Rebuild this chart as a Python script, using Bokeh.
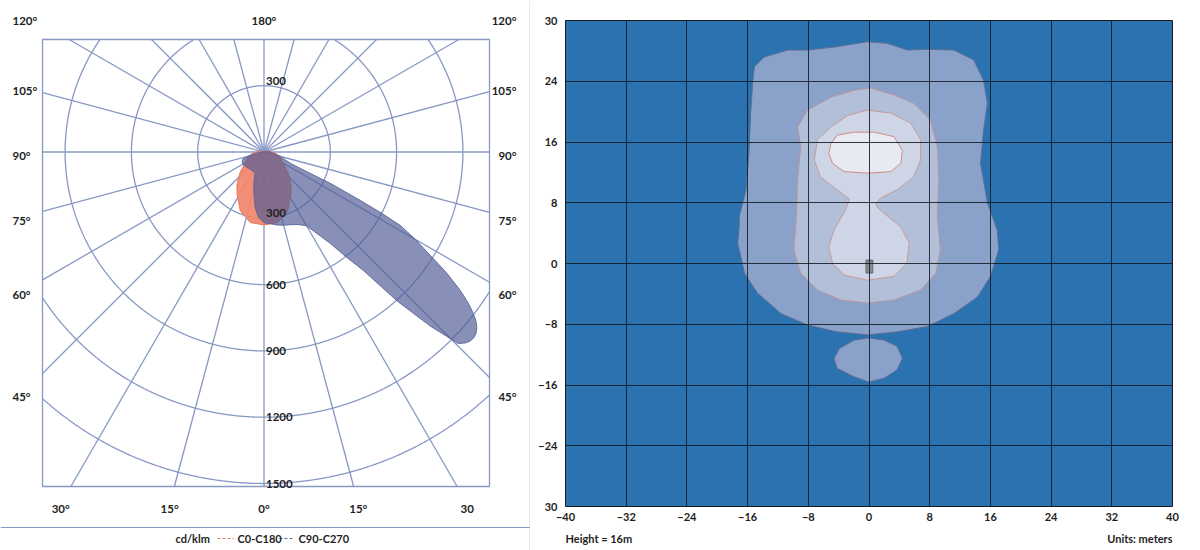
import numpy as np
from bokeh.plotting import figure
from bokeh.models import (ColumnDataSource, LabelSet, Range1d, Span, FixedTicker)
from bokeh.layouts import row, column
from bokeh.embed import file_html
from bokeh.resources import INLINE
from bokeh.core.properties import value

# ---------------- Polar luminous intensity data (cd/klm) ----------------
# angle from nadir in degrees (negative = left half of the diagram)
c0_angles = [-180, -110, -100, -90, -80, -70, -61, -50, -45, -40, -32.7, -22, -11, 0,
             11, 22, 32.7, 40, 45, 50, 61, 70, 80, 90, 100, 110, 180]
c0_cd = [0, 0, 15, 35, 60, 80, 96, 140, 162, 190, 226, 287, 325, 330,
         325, 287, 226, 190, 162, 140, 96, 80, 60, 35, 15, 0, 0]

c90_angles = [-180, -120, -100, -90, -82, -76, -72, -66, -60, -50, -40, -30, -23, -18,
              -13, -9, -5, 0, 5, 10, 15, 20, 25, 30, 33, 36, 38, 40, 41.8, 43.7,
              45.4, 46.5, 47.5, 48.5, 49.5, 50.5, 51.5, 52.5, 53.5, 54.8, 56.5, 58.1, 60,
              61.7, 62.5, 63.3, 64.7, 65.7, 67, 70, 75, 80, 90, 100, 120, 180]
c90_cd = [0, 0, 5, 12, 30, 70, 100, 108, 110, 105, 100, 100, 105, 151,
          200, 255, 295, 320, 326, 335, 343, 350, 362, 385, 440, 512, 600, 700, 906, 1091,
          1234, 1255, 1266, 1268, 1262, 1248, 1225, 1190, 1150, 1087, 990, 887, 790,
          701, 600, 489, 333, 181, 130, 100, 75, 50, 25, 10, 0, 0]

rings_cd = [300, 600, 900, 1200, 1500]
spoke_step_deg = 15
side_angles = [120, 105, 90, 75, 60, 45]
side_angle_labels = ["120°", "105°", "90°", "75°", "60°", "45°"]
bottom_angles = [-30, -15, 0, 15, 30]
bottom_angle_labels = ["30°", "15°", "0°", "15°", "30"]
top_angle_label = "180°"
unit_label = "cd/klm"
series_names = ["C0-C180", "C90-C270"]
series_colors = ["#e8775a", "#5a67a0"]

# ---------------- Isolux plan data (meters) ----------------
x_ticks = [-40, -32, -24, -16, -8, 0, 8, 16, 24, 32, 40]
y_ticks = [-32, -24, -16, -8, 0, 8, 16, 24, 32]
y_tick_overrides = {32: "30", -32: "30"}
height_note = "Height = 16m"
units_note = "Units: meters"

lvl1_x = [-0.2, 2.4, 5.05, 7.7, 11.2, 13.8, 15.1, 15.6, 15.1, 14.7, 15.6, 16.9, 17.1, 16.0,
          14.3, 11.2, 7.7, 3.7, -0.2, -4.2, -8.1, -11.6, -14.7, -16.4, -17.3, -17.1, -17.1,
          -16.2, -15.8, -15.6, -15.3, -15.1, -13.8, -10.7, -8.1, -4.6]
lvl1_y = [29.2, 29.0, 28.1, 28.2, 28.1, 26.8, 24.1, 21.1, 17.6, 13.2, 8.0, 4.4, 1.8, -1.7,
          -4.4, -6.6, -8.3, -9.0, -9.4, -9.0, -8.1, -6.6, -3.9, -1.3, 2.7, 4.8, 6.2,
          9.7, 14.9, 19.8, 24.1, 25.9, 27.2, 28.1, 28.1, 28.5]
blob_x = [0.0, 2.0, 3.7, 4.4, 3.7, 2.0, 0.0, -2.0, -4.2, -4.6, -3.9, -2.0]
blob_y = [-9.8, -10.1, -10.9, -12.5, -14.0, -15.1, -15.6, -14.9, -13.8, -12.5, -11.2, -10.1]
lvl2_x = [0.2, 3.3, 5.9, 8.1, 9.0, 9.2, 9.0, 9.4, 8.8, 6.8, 3.3, -0.2, -3.7, -6.8, -9.0,
          -9.9, -9.6, -9.4, -9.0, -9.4, -8.1, -5.0, -2.0]
lvl2_y = [23.1, 22.2, 21.1, 18.9, 15.4, 11.0, 6.2, 1.8, -1.3, -3.5, -4.8, -5.2, -4.8, -3.5,
          -1.3, 1.8, 5.7, 11.0, 15.4, 18.0, 20.2, 21.9, 22.8]
lvl3_x = [-0.2, 2.9, 5.5, 6.8, 6.8, 5.9, 3.7, 1.5, 0.9, 1.1, 2.0, 4.2, 5.3, 5.0, 3.3, -0.2,
          -3.3, -4.8, -5.3, -4.6, -3.1, -2.6, -4.2, -6.4, -7.2, -6.8, -5.0, -2.8]
lvl3_y = [20.2, 19.8, 18.5, 16.3, 13.6, 11.4, 9.7, 8.6, 7.9, 7.4, 6.6, 4.8, 2.7, 0.0, -1.7,
          -2.2, -1.5, 0.0, 2.2, 4.4, 7.0, 8.5, 9.7, 11.4, 13.6, 16.3, 18.0, 19.5]
lvl4_x = [-5.0, -4.2, -2.0, 0.7, 3.3, 4.4, 4.2, 2.9, -0.2, -3.3, -4.8, -5.3]
lvl4_y = [15.8, 16.9, 17.3, 17.3, 16.7, 14.9, 13.2, 12.1, 11.9, 12.1, 13.2, 14.5]
lum_x = [0.05]
lum_y = [-0.4]

# ---------------- styles ----------------
FONT = "Lato"
TXT = "#1e1e1e"
GRID = "#8798c4"
ORANGE_FILL, ORANGE_LINE = "#f2866a", "#e8775a"
PURPLE_FILL, PURPLE_LINE = "#4f5b96", "#59649a"
BLUE = "#2a72b0"

# ================= LEFT: polar diagram (frame = whole panel) =================
S = 0.221                    # px per cd
W1, H1 = 530, 550
POLE_X, POLE_Y = 263.5, 151.5  # pole position in panel pixels
BOX = (42, 489, 39, 486)       # diagram box: left, right, top, bottom (panel px)


def dx(px):
    return (px - POLE_X) / S


def dy(py):
    return (POLE_Y - py) / S


pol = figure(width=W1, height=H1, x_range=Range1d(dx(0), dx(W1)), y_range=Range1d(dy(H1), dy(0)),
             x_axis_type=None, y_axis_type=None, toolbar_location=None,
             output_backend="svg", min_border=0, outline_line_color=None,
             background_fill_color="white", border_fill_color="white")

bl, br, bt, bb = dx(BOX[0]), dx(BOX[1]), dy(BOX[2]), dy(BOX[3])

# spokes clipped to the box
sx0, sy0, sx1, sy1 = [], [], [], []
for a in np.deg2rad(np.arange(0, 360, spoke_step_deg)):
    c, s = np.cos(a), np.sin(a)
    ts = []
    if c > 1e-9:
        ts.append(br / c)
    if c < -1e-9:
        ts.append(bl / c)
    if s > 1e-9:
        ts.append(bt / s)
    if s < -1e-9:
        ts.append(bb / s)
    t = min(ts)
    sx0.append(0); sy0.append(0); sx1.append(t * c); sy1.append(t * s)
pol.segment(x0=sx0, y0=sy0, x1=sx1, y1=sy1, line_color=GRID, line_width=1.3)

# rings clipped to the box
ring_xs, ring_ys = [], []
th = np.linspace(0, 2 * np.pi, 3601)
for r in rings_cd:
    x = r * np.cos(th)
    y = r * np.sin(th)
    inside = (x >= bl) & (x <= br) & (y >= bb) & (y <= bt)
    idx = np.where(inside)[0]
    if len(idx) == 0:
        continue
    runs = np.split(idx, np.where(np.diff(idx) != 1)[0] + 1)
    for run in runs:
        if len(run) > 1:
            ring_xs.append(x[run].tolist())
            ring_ys.append(y[run].tolist())
pol.multi_line(ring_xs, ring_ys, line_color=GRID, line_width=1.3)

# box
pol.quad(left=bl, right=br, top=bt, bottom=bb, fill_color=None, line_color=GRID, line_width=1.3)


def polar_xy(angles, cd):
    t = np.deg2rad(np.asarray(angles, dtype=float))
    r = np.asarray(cd, dtype=float)
    return r * np.sin(t), -r * np.cos(t)


ox, oy = polar_xy(c0_angles, c0_cd)
pol.patch(ox, oy, fill_color=ORANGE_FILL, fill_alpha=0.92, line_color=ORANGE_LINE, line_width=1)
px_, py_ = polar_xy(c90_angles, c90_cd)
pol.patch(px_, py_, fill_color=PURPLE_FILL, fill_alpha=0.68, line_color=PURPLE_LINE,
          line_width=1, line_alpha=0.9)

TEXT_KW = dict(text_font=value(FONT), text_font_size="11.5px", text_font_style="bold",
               text_color=TXT, text_baseline="middle")

# ring labels (value labels along the vertical axis)
shift = 5 / S
ring_lbl_y = [rings_cd[0] + shift] + [-r + (shift if r == rings_cd[0] else 0) for r in rings_cd]
ring_lbl_t = [str(rings_cd[0])] + [str(r) for r in rings_cd]
pol.add_layout(LabelSet(x="x", y="y", text="t", source=ColumnDataSource(
    dict(x=[2 / S] * len(ring_lbl_y), y=ring_lbl_y, t=ring_lbl_t)), text_align="left", **TEXT_KW))

# angle labels at the sides of the box
top_row_y = dy(20)
side_y = [min(dy(155 + 241 / np.tan(np.deg2rad(a))), top_row_y) for a in side_angles]
pol.add_layout(LabelSet(x="x", y="y", text="t", source=ColumnDataSource(
    dict(x=[dx(12)] * len(side_y), y=side_y, t=side_angle_labels)), text_align="left", **TEXT_KW))
pol.add_layout(LabelSet(x="x", y="y", text="t", source=ColumnDataSource(
    dict(x=[dx(516)] * len(side_y), y=side_y, t=side_angle_labels)), text_align="right", **TEXT_KW))
pol.add_layout(LabelSet(x="x", y="y", text="t", source=ColumnDataSource(
    dict(x=[0], y=[top_row_y], t=[top_angle_label])), text_align="center", **TEXT_KW))
bx = [352 / S * np.tan(np.deg2rad(a)) for a in bottom_angles]
by = [dy(508)] * len(bottom_angles)
pol.add_layout(LabelSet(x="x", y="y", text="t", source=ColumnDataSource(
    dict(x=bx, y=by, t=bottom_angle_labels)), text_align="center", **TEXT_KW))

# legend strip (unit, dashed swatches, series names)
pol.add_layout(Span(location=dy(527), dimension="width", line_color=GRID, line_width=1.2))
pol.add_layout(Span(location=dx(529.5), dimension="height", line_color="#d4d4d4", line_width=1))
leg_y = dy(538)
sw_x0 = [dx(217), dx(279)]
sw_x1 = [dx(233), dx(294)]
pol.segment(x0=sw_x0, y0=[leg_y] * 2, x1=sw_x1, y1=[leg_y] * 2,
            line_color=series_colors, line_dash="3 2", line_width=1.2)
LEG_KW = dict(TEXT_KW)
LEG_KW["text_font_size"] = "11px"
pol.add_layout(LabelSet(x="x", y="y", text="t", source=ColumnDataSource(
    dict(x=[dx(175), dx(237), dx(298)], y=[leg_y] * 3, t=[unit_label] + series_names)),
    text_align="left", **LEG_KW))

# ================= RIGHT: isolux plan =================
W2 = 670
iso = figure(width=W2, height=528, x_range=Range1d(-40, 40), y_range=Range1d(-32, 32),
             toolbar_location=None, output_backend="svg",
             min_border_left=35, min_border_right=28, min_border_top=20, min_border_bottom=22,
             background_fill_color=BLUE, outline_line_color="#1a1a1a", outline_line_width=1)
iso.xaxis.ticker = FixedTicker(ticks=x_ticks)
iso.yaxis.ticker = FixedTicker(ticks=y_ticks)
iso.yaxis.major_label_overrides = y_tick_overrides
for ax in (iso.xaxis, iso.yaxis):
    ax.axis_line_color = None
    ax.major_tick_line_color = None
    ax.minor_tick_line_color = None
    ax.major_tick_out = 0
    ax.major_tick_in = 0
    ax.minor_tick_out = 0
    ax.major_label_text_font = FONT
    ax.major_label_text_font_size = "11px"
    ax.major_label_text_font_style = "bold"
    ax.major_label_text_color = TXT
iso.yaxis.major_label_standoff = 8
iso.xaxis.major_label_standoff = 6
iso.grid.grid_line_color = "#101820"
iso.grid.grid_line_alpha = 0.85
iso.grid.grid_line_width = 1
iso.grid.level = "overlay"

iso.patch(lvl1_x, lvl1_y, fill_color="#8aa2c9", line_color="#5f6f92", line_width=1)
iso.patch(blob_x, blob_y, fill_color="#8aa2c9", line_color="#5f6f92", line_width=1)
iso.patch(lvl2_x, lvl2_y, fill_color="#b1bfd9", line_color="#b8969e", line_width=1)
iso.patch(lvl3_x, lvl3_y, fill_color="#cdd5e6", line_color="#c99a96", line_width=1)
iso.patch(lvl4_x, lvl4_y, fill_color="#e7eaf2", line_color="#d08c80", line_width=1)
iso.rect(x=lum_x, y=lum_y, width=0.9, height=1.7, fill_color="#868b93", line_color="#666b72")

notes = figure(width=W2, height=22, x_range=Range1d(-40, 40), y_range=Range1d(0, 22),
               x_axis_type=None, y_axis_type=None, toolbar_location=None,
               output_backend="svg", min_border_left=35, min_border_right=28,
               min_border_top=0, min_border_bottom=0, outline_line_color=None)
NOTE_KW = dict(text_font=value(FONT), text_font_size="11px", text_font_style="bold",
               text_color=TXT, text_baseline="middle")
notes.add_layout(LabelSet(x="x", y="y", text="t", source=ColumnDataSource(
    dict(x=[-40], y=[12], t=[height_note])), text_align="left", **NOTE_KW))
notes.add_layout(LabelSet(x="x", y="y", text="t", source=ColumnDataSource(
    dict(x=[40], y=[12], t=[units_note])), text_align="right", **NOTE_KW))

layout = row(pol, column(iso, notes, spacing=0), spacing=0)
open("out.html", "w").write(file_html(layout, INLINE))
